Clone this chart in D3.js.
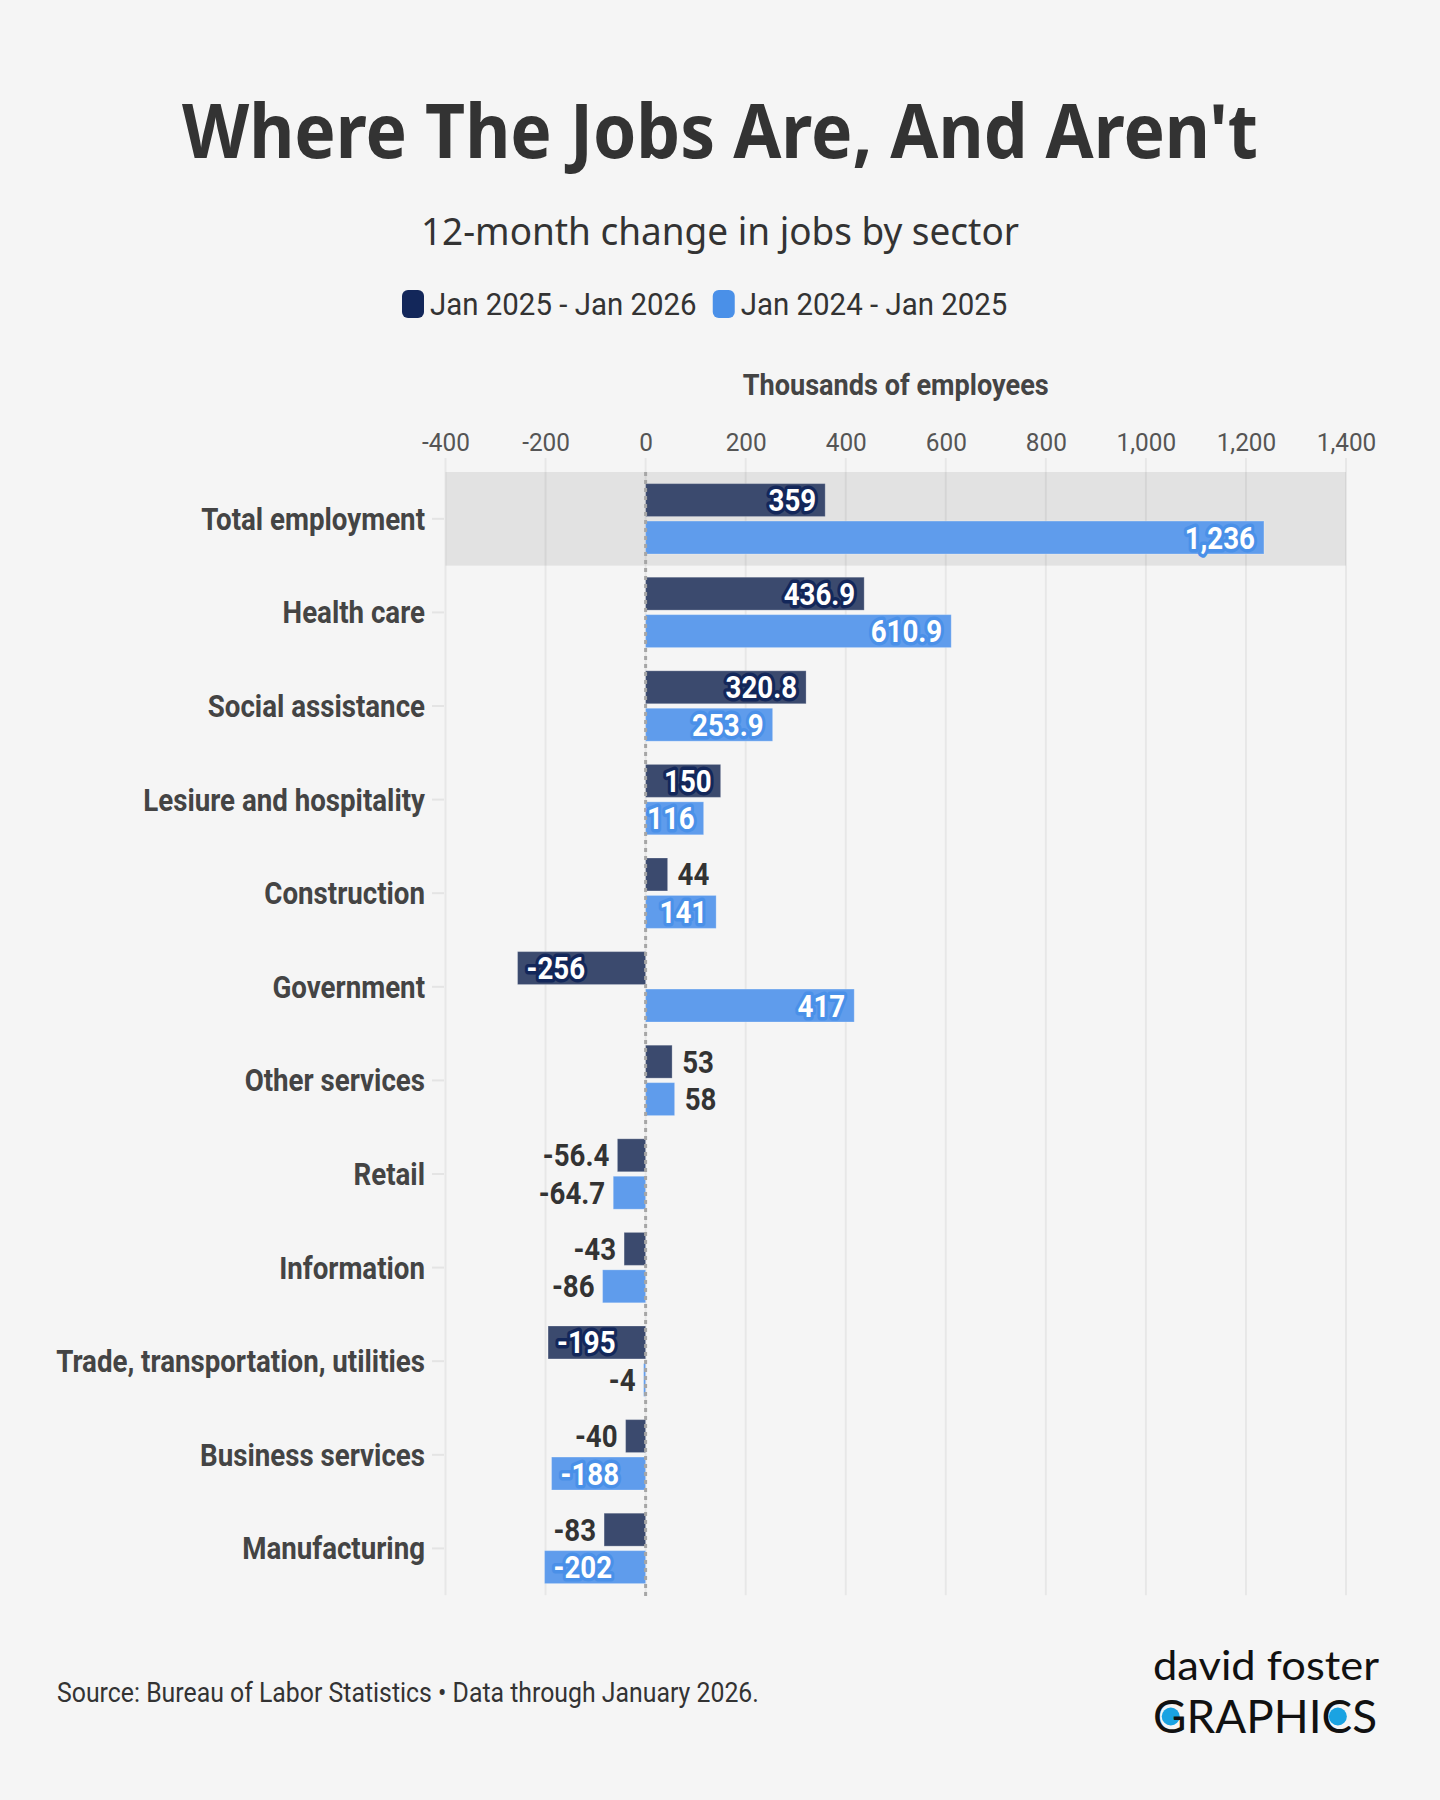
<!DOCTYPE html>
<html>
<head>
<meta charset="utf-8">
<script src="https://cdn.jsdelivr.net/npm/d3@7"></script>
<style>
  html, body { margin: 0; padding: 0; background: #f5f5f5; }
  svg { display: block; }
</style>
</head>
<body>
<svg id="chart" width="1440" height="1800"></svg>
<script>
// ---------- DATA ----------
const categories = [
  "Total employment", "Health care", "Social assistance", "Lesiure and hospitality",
  "Construction", "Government", "Other services", "Retail", "Information",
  "Trade, transportation, utilities", "Business services", "Manufacturing"
];
const seriesNames = ["Jan 2025 - Jan 2026", "Jan 2024 - Jan 2025"];
const values2026 = [359, 436.9, 320.8, 150, 44, -256, 53, -56.4, -43, -195, -40, -83];
const values2025 = [1236, 610.9, 253.9, 116, 141, 417, 58, -64.7, -86, -4, -188, -202];
const xTickValues = [-400, -200, 0, 200, 400, 600, 800, 1000, 1200, 1400];
const highlighted = ["Total employment"];

const titleText = "Where The Jobs Are, And Aren't";
const subtitleText = "12-month change in jobs by sector";
const axisTitleText = "Thousands of employees";
const footerText = "Source: Bureau of Labor Statistics \u2022 Data through January 2026.";
const logoLines = ["david foster", "GRAPHICS"];

// ---------- STYLE ----------
const barColors = ["#3b4a6e", "#5f9cec"];
const haloColors = ["#13275a", "#4a90e8"];
const legendColors = ["#13275a", "#4a90e8"];
const bg = "#f5f5f5";

const svg = d3.select("#chart");
svg.append("rect").attr("width", 1440).attr("height", 1800).attr("fill", bg);

function measure(txt, size, weight, family) {
  const t = svg.append("text").attr("font-family", family || "Roboto")
    .attr("font-size", size).attr("font-weight", weight || 400).text(txt);
  const w = t.node().getComputedTextLength();
  t.remove();
  return w;
}
// horizontal condensing factors (emulating a condensed face)
const cfBold = 369 / measure("Trade, transportation, utilities", 31, 700);
const cfReg = 702 / measure(footerText, 27, 400);

function condense(sel, f) {
  sel.each(function () {
    const t = d3.select(this);
    const x = +t.attr("x") || 0;
    const y = +t.attr("y") || 0;
    t.attr("x", 0).attr("y", 0)
     .attr("transform", `translate(${x},${y}) scale(${f},1)`);
  });
}

const fmtBase = d3.format(",");
const fmt = v => fmtBase(v).replace("\u2212", "-");

// ---------- TITLE ----------
svg.append("text")
  .attr("x", 720).attr("y", 158)
  .attr("text-anchor", "middle")
  .attr("font-family", "'Noto Sans', sans-serif")
  .attr("font-weight", 700).attr("font-size", 75)
  .attr("fill", "#333")
  .attr("textLength", 1076).attr("lengthAdjust", "spacingAndGlyphs")
  .text(titleText);

svg.append("text")
  .attr("x", 720).attr("y", 245)
  .attr("text-anchor", "middle")
  .attr("font-family", "'Noto Sans', sans-serif")
  .attr("font-weight", 400).attr("font-size", 38)
  .attr("fill", "#333")
  .attr("textLength", 598).attr("lengthAdjust", "spacingAndGlyphs")
  .text(subtitleText);

// ---------- LEGEND ----------
{
  let lx = 402;
  const lg = svg.append("g");
  seriesNames.forEach((name, i) => {
    lg.append("rect").attr("x", lx).attr("y", 290).attr("width", 22).attr("height", 28)
      .attr("rx", 6).attr("fill", legendColors[i]);
    lx += 28;
    const w = measure(name, 32, 400) * cfReg;
    lg.append("text").attr("x", lx).attr("y", 315)
      .attr("font-family", "Roboto").attr("font-size", 32).attr("fill", "#333")
      .text(name).call(condense, cfReg);
    lx += w + 16;
  });
}

// ---------- SCALES ----------
const x = d3.scaleLinear().domain([-400, 1400]).range([445.5, 1346]);
const y = d3.scaleBand().domain(categories).range([472, 472 + 12 * 93.6]);
const ySub = d3.scaleBand().domain(seriesNames).range([0, y.bandwidth()])
  .paddingInner(0.12).paddingOuter(0.31);

const plotTop = 458, plotBottom = y.range()[1];

// highlight band
svg.append("g").selectAll("rect").data(highlighted).join("rect")
  .attr("x", x.range()[0]).attr("width", x.range()[1] - x.range()[0])
  .attr("y", d => y(d)).attr("height", y.bandwidth())
  .attr("fill", "#e2e2e2");

// gridlines
svg.append("g").selectAll("line").data(xTickValues).join("line")
  .attr("x1", d => x(d)).attr("x2", d => x(d))
  .attr("y1", plotTop).attr("y2", plotBottom)
  .attr("stroke", "rgba(0,0,0,0.055)").attr("stroke-width", 2);

// x axis (top)
const xAxisG = svg.append("g").attr("transform", "translate(0,451)")
  .call(d3.axisTop(x).tickValues(xTickValues).tickSize(0).tickPadding(0).tickFormat(fmt));
xAxisG.select(".domain").remove();
xAxisG.selectAll("text")
  .attr("font-family", "Roboto").attr("font-size", 26.5).attr("fill", "#555")
  .attr("dy", "0").call(condense, cfReg);

// axis title
svg.append("text").attr("x", (x.range()[0] + x.range()[1]) / 2).attr("y", 395)
  .attr("text-anchor", "middle")
  .attr("font-family", "Roboto").attr("font-weight", 700).attr("font-size", 29)
  .attr("fill", "#444")
  .attr("textLength", 306).attr("lengthAdjust", "spacingAndGlyphs")
  .text(axisTitleText);

// y axis
const yAxisG = svg.append("g").attr("transform", "translate(444,0)")
  .call(d3.axisLeft(y).tickSize(12).tickPadding(7));
yAxisG.select(".domain").remove();
yAxisG.selectAll(".tick line").attr("stroke", "#e4e4e4").attr("stroke-width", 2);
yAxisG.selectAll("text")
  .attr("font-family", "Roboto").attr("font-weight", 700).attr("font-size", 31)
  .attr("fill", "#444").attr("dy", "0.355em").call(condense, cfBold);

// ---------- BARS ----------
const rows = [];
categories.forEach((c, i) => {
  rows.push({ cat: c, s: 0, v: values2026[i] });
  rows.push({ cat: c, s: 1, v: values2025[i] });
});

svg.append("g").selectAll("rect").data(rows).join("rect")
  .attr("x", d => x(Math.min(0, d.v)))
  .attr("width", d => Math.abs(x(d.v) - x(0)))
  .attr("y", d => y(d.cat) + ySub(seriesNames[d.s]))
  .attr("height", ySub.bandwidth())
  .attr("fill", d => barColors[d.s])
  .attr("stroke", "rgba(255,255,255,0.25)").attr("stroke-width", 1);

// zero line
svg.append("line")
  .attr("x1", x(0)).attr("x2", x(0))
  .attr("y1", y.range()[0]).attr("y2", plotBottom + 2)
  .attr("stroke", "#a6a6a6").attr("stroke-width", 3).attr("stroke-dasharray", "4,4");

// value labels
const labelSize = 31;
const labG = svg.append("g");
rows.forEach(d => {
  const inside = Math.abs(d.v) >= 100;
  const cy = y(d.cat) + ySub(seriesNames[d.s]) + ySub.bandwidth() / 2 + labelSize * 0.355;
  let lx, anchor;
  if (d.v >= 0) {
    lx = inside ? x(d.v) - 9 : x(d.v) + 10;
    anchor = inside ? "end" : "start";
  } else {
    lx = inside ? x(d.v) + 9 : x(d.v) - 8;
    anchor = inside ? "start" : "end";
  }
  const t = labG.append("text").attr("x", lx).attr("y", cy)
    .attr("text-anchor", anchor)
    .attr("font-family", "Roboto").attr("font-weight", 700).attr("font-size", labelSize)
    .text(fmt(d.v));
  if (inside) {
    t.attr("fill", "#fff").attr("stroke", haloColors[d.s]).attr("stroke-width", 7)
     .attr("stroke-linejoin", "round").attr("paint-order", "stroke");
  } else {
    t.attr("fill", "#333");
  }
  t.call(condense, cfBold);
});

// ---------- FOOTER ----------
svg.append("text").attr("x", 57).attr("y", 1702)
  .attr("font-family", "Roboto").attr("font-size", 27).attr("fill", "#333")
  .text(footerText).call(condense, cfReg);

// logo
{
  const lg = svg.append("g");
  lg.append("text").attr("x", 1153).attr("y", 1680)
    .attr("font-family", "Lato, 'DejaVu Sans', sans-serif").attr("font-size", 40)
    .attr("fill", "#111")
    .attr("textLength", 226).attr("lengthAdjust", "spacingAndGlyphs")
    .text(logoLines[0]);
  const g2 = lg.append("text").attr("x", 1153).attr("y", 1733)
    .attr("font-family", "Lato, 'DejaVu Sans', sans-serif").attr("font-size", 46)
    .attr("fill", "#111")
    .attr("textLength", 224).attr("lengthAdjust", "spacingAndGlyphs")
    .text(logoLines[1]);
  const node = g2.node();
  [0, 6].forEach(i => {
    const e = node.getExtentOfChar(i);
    lg.insert("circle", "text")
      .attr("cx", e.x + e.width / 2 + 1).attr("cy", 1733 - 16.5)
      .attr("r", 9).attr("fill", "#1aa3e2");
  });
}
</script>
</body>
</html>
